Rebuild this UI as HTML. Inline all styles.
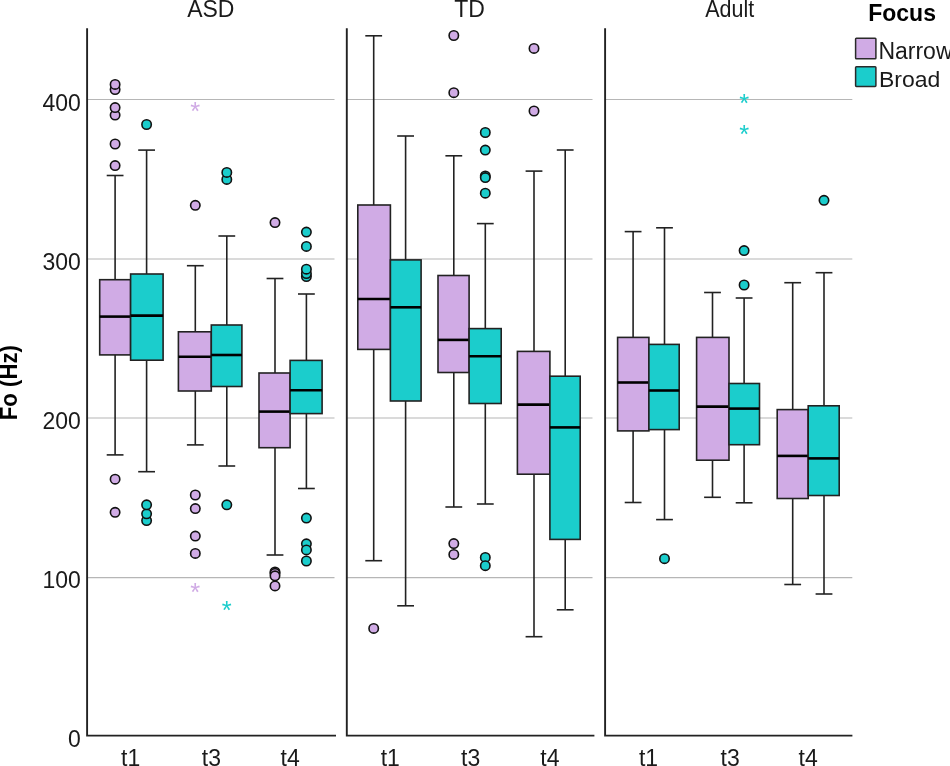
<!DOCTYPE html>
<html lang="en"><head><meta charset="utf-8"><title>F0 (Hz) by Focus</title>
<style>html,body{margin:0;padding:0;background:#fff}body{width:950px;height:766px;overflow:hidden}svg{display:block}text{font-family:"Liberation Sans",sans-serif;fill:#2b2b2b}</style>
</head><body>
<svg width="950" height="766" viewBox="0 0 950 766">
<rect width="950" height="766" fill="#fff"/>
<line x1="87.1" x2="334.5" y1="99.5" y2="99.5" stroke="#b6b6b6" stroke-width="1.2"/>
<line x1="87.1" x2="334.5" y1="259" y2="259" stroke="#b6b6b6" stroke-width="1.2"/>
<line x1="87.1" x2="334.5" y1="418" y2="418" stroke="#b6b6b6" stroke-width="1.2"/>
<line x1="87.1" x2="334.5" y1="577.7" y2="577.7" stroke="#b6b6b6" stroke-width="1.2"/>
<line x1="346.8" x2="592.5" y1="99.5" y2="99.5" stroke="#b6b6b6" stroke-width="1.2"/>
<line x1="346.8" x2="592.5" y1="259" y2="259" stroke="#b6b6b6" stroke-width="1.2"/>
<line x1="346.8" x2="592.5" y1="418" y2="418" stroke="#b6b6b6" stroke-width="1.2"/>
<line x1="346.8" x2="592.5" y1="577.7" y2="577.7" stroke="#b6b6b6" stroke-width="1.2"/>
<line x1="605.1" x2="852.3" y1="99.5" y2="99.5" stroke="#b6b6b6" stroke-width="1.2"/>
<line x1="605.1" x2="852.3" y1="259" y2="259" stroke="#b6b6b6" stroke-width="1.2"/>
<line x1="605.1" x2="852.3" y1="418" y2="418" stroke="#b6b6b6" stroke-width="1.2"/>
<line x1="605.1" x2="852.3" y1="577.7" y2="577.7" stroke="#b6b6b6" stroke-width="1.2"/>
<g stroke="#222222" stroke-width="1.6" fill="none">
<line x1="115.1" x2="115.1" y1="175.5" y2="454.9"/>
<line x1="106.69999999999999" x2="123.5" y1="175.5" y2="175.5"/>
<line x1="106.69999999999999" x2="123.5" y1="454.9" y2="454.9"/>
<rect x="99.7" y="279.7" width="30.9" height="75.2" fill="#d0abe5"/>
<line x1="99.7" x2="130.6" y1="316.6" y2="316.6" stroke="#000" stroke-width="2.6"/>
</g>
<circle cx="115.1" cy="165.6" r="4.7" fill="#d0abe5" stroke="#111" stroke-width="1.6"/>
<circle cx="115.1" cy="144" r="4.7" fill="#d0abe5" stroke="#111" stroke-width="1.6"/>
<circle cx="115.1" cy="115.1" r="4.7" fill="#d0abe5" stroke="#111" stroke-width="1.6"/>
<circle cx="115.1" cy="107.6" r="4.7" fill="#d0abe5" stroke="#111" stroke-width="1.6"/>
<circle cx="115.1" cy="89.6" r="4.7" fill="#d0abe5" stroke="#111" stroke-width="1.6"/>
<circle cx="115.1" cy="84.4" r="4.7" fill="#d0abe5" stroke="#111" stroke-width="1.6"/>
<circle cx="115.1" cy="479.2" r="4.7" fill="#d0abe5" stroke="#111" stroke-width="1.6"/>
<circle cx="115.1" cy="512.3" r="4.7" fill="#d0abe5" stroke="#111" stroke-width="1.6"/>
<g stroke="#222222" stroke-width="1.6" fill="none">
<line x1="146.6" x2="146.6" y1="150.1" y2="471.7"/>
<line x1="138.2" x2="155.0" y1="150.1" y2="150.1"/>
<line x1="138.2" x2="155.0" y1="471.7" y2="471.7"/>
<rect x="130.6" y="274.0" width="32.5" height="86.2" fill="#1bcdcc"/>
<line x1="130.6" x2="163.1" y1="315.6" y2="315.6" stroke="#000" stroke-width="2.6"/>
</g>
<circle cx="146.6" cy="124.5" r="4.7" fill="#1bcdcc" stroke="#111" stroke-width="1.6"/>
<circle cx="146.6" cy="520.6" r="4.7" fill="#1bcdcc" stroke="#111" stroke-width="1.6"/>
<circle cx="146.6" cy="513.8" r="4.7" fill="#1bcdcc" stroke="#111" stroke-width="1.6"/>
<circle cx="146.6" cy="504.8" r="4.7" fill="#1bcdcc" stroke="#111" stroke-width="1.6"/>
<g stroke="#222222" stroke-width="1.6" fill="none">
<line x1="195.3" x2="195.3" y1="265.7" y2="444.9"/>
<line x1="186.9" x2="203.70000000000002" y1="265.7" y2="265.7"/>
<line x1="186.9" x2="203.70000000000002" y1="444.9" y2="444.9"/>
<rect x="178.4" y="331.8" width="32.9" height="59.2" fill="#d0abe5"/>
<line x1="178.4" x2="211.3" y1="356.7" y2="356.7" stroke="#000" stroke-width="2.6"/>
</g>
<circle cx="195.3" cy="205.3" r="4.7" fill="#d0abe5" stroke="#111" stroke-width="1.6"/>
<circle cx="195.3" cy="495" r="4.7" fill="#d0abe5" stroke="#111" stroke-width="1.6"/>
<circle cx="195.3" cy="508.6" r="4.7" fill="#d0abe5" stroke="#111" stroke-width="1.6"/>
<circle cx="195.3" cy="536.1" r="4.7" fill="#d0abe5" stroke="#111" stroke-width="1.6"/>
<circle cx="195.3" cy="553.4" r="4.7" fill="#d0abe5" stroke="#111" stroke-width="1.6"/>
<text x="195.3" y="120.2" text-anchor="middle" font-size="25.5" style="fill:#d0abe5">*</text>
<text x="195.3" y="600.5" text-anchor="middle" font-size="25.5" style="fill:#d0abe5">*</text>
<g stroke="#222222" stroke-width="1.6" fill="none">
<line x1="226.8" x2="226.8" y1="236.0" y2="466.0"/>
<line x1="218.4" x2="235.20000000000002" y1="236.0" y2="236.0"/>
<line x1="218.4" x2="235.20000000000002" y1="466.0" y2="466.0"/>
<rect x="211.3" y="325.0" width="30.6" height="61.5" fill="#1bcdcc"/>
<line x1="211.3" x2="241.9" y1="355.0" y2="355.0" stroke="#000" stroke-width="2.6"/>
</g>
<circle cx="226.8" cy="179.4" r="4.7" fill="#1bcdcc" stroke="#111" stroke-width="1.6"/>
<circle cx="226.8" cy="172.4" r="4.7" fill="#1bcdcc" stroke="#111" stroke-width="1.6"/>
<circle cx="226.8" cy="504.8" r="4.7" fill="#1bcdcc" stroke="#111" stroke-width="1.6"/>
<text x="226.8" y="618.6" text-anchor="middle" font-size="25.5" style="fill:#1bcdcc">*</text>
<g stroke="#222222" stroke-width="1.6" fill="none">
<line x1="275.0" x2="275.0" y1="278.5" y2="555.0"/>
<line x1="266.6" x2="283.4" y1="278.5" y2="278.5"/>
<line x1="266.6" x2="283.4" y1="555.0" y2="555.0"/>
<rect x="259.0" y="373.0" width="31.1" height="74.7" fill="#d0abe5"/>
<line x1="259.0" x2="290.1" y1="411.6" y2="411.6" stroke="#000" stroke-width="2.6"/>
</g>
<circle cx="275.0" cy="222.6" r="4.7" fill="#d0abe5" stroke="#111" stroke-width="1.6"/>
<circle cx="275.0" cy="572" r="4.7" fill="#d0abe5" stroke="#111" stroke-width="1.6"/>
<circle cx="275.0" cy="573.3" r="4.7" fill="#d0abe5" stroke="#111" stroke-width="1.6"/>
<circle cx="275.0" cy="585.9" r="4.7" fill="#d0abe5" stroke="#111" stroke-width="1.6"/>
<circle cx="275.0" cy="575.8" r="4.7" fill="#d0abe5" stroke="#111" stroke-width="1.6"/>
<g stroke="#222222" stroke-width="1.6" fill="none">
<line x1="306.4" x2="306.4" y1="294.0" y2="488.5"/>
<line x1="298.0" x2="314.79999999999995" y1="294.0" y2="294.0"/>
<line x1="298.0" x2="314.79999999999995" y1="488.5" y2="488.5"/>
<rect x="290.1" y="360.4" width="32.0" height="53.2" fill="#1bcdcc"/>
<line x1="290.1" x2="322.1" y1="390.3" y2="390.3" stroke="#000" stroke-width="2.6"/>
</g>
<circle cx="306.4" cy="276.5" r="4.7" fill="#1bcdcc" stroke="#111" stroke-width="1.6"/>
<circle cx="306.4" cy="273.5" r="4.7" fill="#1bcdcc" stroke="#111" stroke-width="1.6"/>
<circle cx="306.4" cy="269.2" r="4.7" fill="#1bcdcc" stroke="#111" stroke-width="1.6"/>
<circle cx="306.4" cy="246.4" r="4.7" fill="#1bcdcc" stroke="#111" stroke-width="1.6"/>
<circle cx="306.4" cy="232.1" r="4.7" fill="#1bcdcc" stroke="#111" stroke-width="1.6"/>
<circle cx="306.4" cy="518.1" r="4.7" fill="#1bcdcc" stroke="#111" stroke-width="1.6"/>
<circle cx="306.4" cy="543.8" r="4.7" fill="#1bcdcc" stroke="#111" stroke-width="1.6"/>
<circle cx="306.4" cy="549.9" r="4.7" fill="#1bcdcc" stroke="#111" stroke-width="1.6"/>
<circle cx="306.4" cy="561" r="4.7" fill="#1bcdcc" stroke="#111" stroke-width="1.6"/>
<g stroke="#222222" stroke-width="1.6" fill="none">
<line x1="373.7" x2="373.7" y1="35.8" y2="560.7"/>
<line x1="365.3" x2="382.09999999999997" y1="35.8" y2="35.8"/>
<line x1="365.3" x2="382.09999999999997" y1="560.7" y2="560.7"/>
<rect x="357.8" y="205.0" width="32.6" height="144.4" fill="#d0abe5"/>
<line x1="357.8" x2="390.4" y1="299.0" y2="299.0" stroke="#000" stroke-width="2.6"/>
</g>
<circle cx="373.7" cy="628.4" r="4.7" fill="#d0abe5" stroke="#111" stroke-width="1.6"/>
<g stroke="#222222" stroke-width="1.6" fill="none">
<line x1="405.6" x2="405.6" y1="136.0" y2="605.8"/>
<line x1="397.20000000000005" x2="414.0" y1="136.0" y2="136.0"/>
<line x1="397.20000000000005" x2="414.0" y1="605.8" y2="605.8"/>
<rect x="390.4" y="259.9" width="30.7" height="141.1" fill="#1bcdcc"/>
<line x1="390.4" x2="421.1" y1="307.3" y2="307.3" stroke="#000" stroke-width="2.6"/>
</g>
<g stroke="#222222" stroke-width="1.6" fill="none">
<line x1="453.8" x2="453.8" y1="155.8" y2="507.0"/>
<line x1="445.40000000000003" x2="462.2" y1="155.8" y2="155.8"/>
<line x1="445.40000000000003" x2="462.2" y1="507.0" y2="507.0"/>
<rect x="438.0" y="275.5" width="31.1" height="97.0" fill="#d0abe5"/>
<line x1="438.0" x2="469.1" y1="339.9" y2="339.9" stroke="#000" stroke-width="2.6"/>
</g>
<circle cx="453.8" cy="35.5" r="4.7" fill="#d0abe5" stroke="#111" stroke-width="1.6"/>
<circle cx="453.8" cy="92.7" r="4.7" fill="#d0abe5" stroke="#111" stroke-width="1.6"/>
<circle cx="453.8" cy="543.6" r="4.7" fill="#d0abe5" stroke="#111" stroke-width="1.6"/>
<circle cx="453.8" cy="554.4" r="4.7" fill="#d0abe5" stroke="#111" stroke-width="1.6"/>
<g stroke="#222222" stroke-width="1.6" fill="none">
<line x1="485.3" x2="485.3" y1="223.6" y2="504.0"/>
<line x1="476.90000000000003" x2="493.7" y1="223.6" y2="223.6"/>
<line x1="476.90000000000003" x2="493.7" y1="504.0" y2="504.0"/>
<rect x="469.1" y="328.6" width="32.1" height="74.9" fill="#1bcdcc"/>
<line x1="469.1" x2="501.2" y1="356.2" y2="356.2" stroke="#000" stroke-width="2.6"/>
</g>
<circle cx="485.3" cy="132.5" r="4.7" fill="#1bcdcc" stroke="#111" stroke-width="1.6"/>
<circle cx="485.3" cy="150.1" r="4.7" fill="#1bcdcc" stroke="#111" stroke-width="1.6"/>
<circle cx="485.3" cy="175.9" r="4.7" fill="#1bcdcc" stroke="#111" stroke-width="1.6"/>
<circle cx="485.3" cy="177.6" r="4.7" fill="#1bcdcc" stroke="#111" stroke-width="1.6"/>
<circle cx="485.3" cy="193.2" r="4.7" fill="#1bcdcc" stroke="#111" stroke-width="1.6"/>
<circle cx="485.3" cy="557.4" r="4.7" fill="#1bcdcc" stroke="#111" stroke-width="1.6"/>
<circle cx="485.3" cy="565.7" r="4.7" fill="#1bcdcc" stroke="#111" stroke-width="1.6"/>
<g stroke="#222222" stroke-width="1.6" fill="none">
<line x1="534.0" x2="534.0" y1="171.1" y2="636.7"/>
<line x1="525.6" x2="542.4" y1="171.1" y2="171.1"/>
<line x1="525.6" x2="542.4" y1="636.7" y2="636.7"/>
<rect x="517.4" y="351.4" width="32.5" height="122.8" fill="#d0abe5"/>
<line x1="517.4" x2="549.9" y1="404.6" y2="404.6" stroke="#000" stroke-width="2.6"/>
</g>
<circle cx="534.0" cy="48.4" r="4.7" fill="#d0abe5" stroke="#111" stroke-width="1.6"/>
<circle cx="534.0" cy="111" r="4.7" fill="#d0abe5" stroke="#111" stroke-width="1.6"/>
<g stroke="#222222" stroke-width="1.6" fill="none">
<line x1="565.2" x2="565.2" y1="150.0" y2="609.8"/>
<line x1="556.8000000000001" x2="573.6" y1="150.0" y2="150.0"/>
<line x1="556.8000000000001" x2="573.6" y1="609.8" y2="609.8"/>
<rect x="549.9" y="376.2" width="30.3" height="163.2" fill="#1bcdcc"/>
<line x1="549.9" x2="580.2" y1="427.4" y2="427.4" stroke="#000" stroke-width="2.6"/>
</g>
<g stroke="#222222" stroke-width="1.6" fill="none">
<line x1="633.1" x2="633.1" y1="231.6" y2="502.5"/>
<line x1="624.7" x2="641.5" y1="231.6" y2="231.6"/>
<line x1="624.7" x2="641.5" y1="502.5" y2="502.5"/>
<rect x="617.6" y="337.4" width="31.3" height="93.5" fill="#d0abe5"/>
<line x1="617.6" x2="648.9" y1="382.5" y2="382.5" stroke="#000" stroke-width="2.6"/>
</g>
<g stroke="#222222" stroke-width="1.6" fill="none">
<line x1="664.5" x2="664.5" y1="227.8" y2="519.6"/>
<line x1="656.1" x2="672.9" y1="227.8" y2="227.8"/>
<line x1="656.1" x2="672.9" y1="519.6" y2="519.6"/>
<rect x="648.9" y="344.4" width="30.3" height="85.2" fill="#1bcdcc"/>
<line x1="648.9" x2="679.2" y1="390.5" y2="390.5" stroke="#000" stroke-width="2.6"/>
</g>
<circle cx="664.5" cy="558.7" r="4.7" fill="#1bcdcc" stroke="#111" stroke-width="1.6"/>
<g stroke="#222222" stroke-width="1.6" fill="none">
<line x1="712.5" x2="712.5" y1="292.5" y2="497.3"/>
<line x1="704.1" x2="720.9" y1="292.5" y2="292.5"/>
<line x1="704.1" x2="720.9" y1="497.3" y2="497.3"/>
<rect x="696.6" y="337.4" width="32.4" height="122.8" fill="#d0abe5"/>
<line x1="696.6" x2="729.0" y1="406.6" y2="406.6" stroke="#000" stroke-width="2.6"/>
</g>
<g stroke="#222222" stroke-width="1.6" fill="none">
<line x1="744.1" x2="744.1" y1="298.0" y2="502.8"/>
<line x1="735.7" x2="752.5" y1="298.0" y2="298.0"/>
<line x1="735.7" x2="752.5" y1="502.8" y2="502.8"/>
<rect x="729.0" y="383.5" width="30.5" height="61.2" fill="#1bcdcc"/>
<line x1="729.0" x2="759.5" y1="408.6" y2="408.6" stroke="#000" stroke-width="2.6"/>
</g>
<circle cx="744.1" cy="250.6" r="4.7" fill="#1bcdcc" stroke="#111" stroke-width="1.6"/>
<circle cx="744.1" cy="285" r="4.7" fill="#1bcdcc" stroke="#111" stroke-width="1.6"/>
<text x="744.1" y="112.2" text-anchor="middle" font-size="25.5" style="fill:#1bcdcc">*</text>
<text x="744.1" y="143.2" text-anchor="middle" font-size="25.5" style="fill:#1bcdcc">*</text>
<g stroke="#222222" stroke-width="1.6" fill="none">
<line x1="792.7" x2="792.7" y1="282.7" y2="584.5"/>
<line x1="784.3000000000001" x2="801.1" y1="282.7" y2="282.7"/>
<line x1="784.3000000000001" x2="801.1" y1="584.5" y2="584.5"/>
<rect x="777.2" y="409.6" width="31.0" height="88.9" fill="#d0abe5"/>
<line x1="777.2" x2="808.2" y1="455.9" y2="455.9" stroke="#000" stroke-width="2.6"/>
</g>
<g stroke="#222222" stroke-width="1.6" fill="none">
<line x1="824.0" x2="824.0" y1="272.7" y2="594.0"/>
<line x1="815.6" x2="832.4" y1="272.7" y2="272.7"/>
<line x1="815.6" x2="832.4" y1="594.0" y2="594.0"/>
<rect x="808.2" y="405.8" width="31.0" height="89.7" fill="#1bcdcc"/>
<line x1="808.2" x2="839.2" y1="458.4" y2="458.4" stroke="#000" stroke-width="2.6"/>
</g>
<circle cx="824.0" cy="200.3" r="4.7" fill="#1bcdcc" stroke="#111" stroke-width="1.6"/>
<path d="M87.1 28.3 V735.6 H336.0" fill="none" stroke="#222222" stroke-width="1.9"/>
<text transform="translate(210.8,16.8) scale(1,1.05)" text-anchor="middle" font-size="23" style="fill:#1a1a1a">ASD</text>
<path d="M346.8 28.3 V735.6 H594.4" fill="none" stroke="#222222" stroke-width="1.9"/>
<text transform="translate(469.6,16.8) scale(1,1.05)" text-anchor="middle" font-size="23" style="fill:#1a1a1a">TD</text>
<path d="M605.1 28.3 V735.6 H852.4" fill="none" stroke="#222222" stroke-width="1.9"/>
<text transform="translate(729.7,16.8) scale(1,1.05)" textLength="49" lengthAdjust="spacingAndGlyphs" text-anchor="middle" font-size="23" style="fill:#1a1a1a">Adult</text>
<text transform="translate(80.8,111.3) scale(1,1.05)" text-anchor="end" font-size="23" style="fill:#1a1a1a">400</text>
<text transform="translate(80.8,269.5) scale(1,1.05)" text-anchor="end" font-size="23" style="fill:#1a1a1a">300</text>
<text transform="translate(80.8,428.8) scale(1,1.05)" text-anchor="end" font-size="23" style="fill:#1a1a1a">200</text>
<text transform="translate(80.8,588.3) scale(1,1.05)" text-anchor="end" font-size="23" style="fill:#1a1a1a">100</text>
<text transform="translate(80.8,747.3) scale(1,1.05)" text-anchor="end" font-size="23" style="fill:#1a1a1a">0</text>
<text transform="translate(130.6,766.0) scale(1,1.05)" text-anchor="middle" font-size="23" style="fill:#1a1a1a">t1</text>
<text transform="translate(211.4,766.0) scale(1,1.05)" text-anchor="middle" font-size="23" style="fill:#1a1a1a">t3</text>
<text transform="translate(290.2,766.0) scale(1,1.05)" text-anchor="middle" font-size="23" style="fill:#1a1a1a">t4</text>
<text transform="translate(390.3,766.0) scale(1,1.05)" text-anchor="middle" font-size="23" style="fill:#1a1a1a">t1</text>
<text transform="translate(470.6,766.0) scale(1,1.05)" text-anchor="middle" font-size="23" style="fill:#1a1a1a">t3</text>
<text transform="translate(549.9,766.0) scale(1,1.05)" text-anchor="middle" font-size="23" style="fill:#1a1a1a">t4</text>
<text transform="translate(648.5,766.0) scale(1,1.05)" text-anchor="middle" font-size="23" style="fill:#1a1a1a">t1</text>
<text transform="translate(730.1,766.0) scale(1,1.05)" text-anchor="middle" font-size="23" style="fill:#1a1a1a">t3</text>
<text transform="translate(808.1,766.0) scale(1,1.05)" text-anchor="middle" font-size="23" style="fill:#1a1a1a">t4</text>
<text transform="translate(17,420.2) rotate(-90) scale(1,1.04)" font-size="22.2" font-weight="bold" style="fill:#000">Fo (Hz)</text>
<text transform="translate(868.2,20.9) scale(1,1.05)" text-anchor="start" font-size="23" font-weight="bold" style="fill:#000">Focus</text>
<rect x="855.6" y="38.3" width="20.3" height="20.4" fill="#d0abe5" stroke="#2a2a2a" stroke-width="1.5" rx="0.8"/>
<rect x="855.6" y="66.8" width="20.3" height="19.6" fill="#1bcdcc" stroke="#2a2a2a" stroke-width="1.5" rx="0.8"/>
<text transform="translate(878.4,59.1) scale(1,1.05)" text-anchor="start" font-size="23" style="fill:#1a1a1a">Narrow</text>
<text transform="translate(879,87.0) scale(1,0.98)" text-anchor="start" font-size="23" style="fill:#1a1a1a">Broad</text>
</svg></body></html>
